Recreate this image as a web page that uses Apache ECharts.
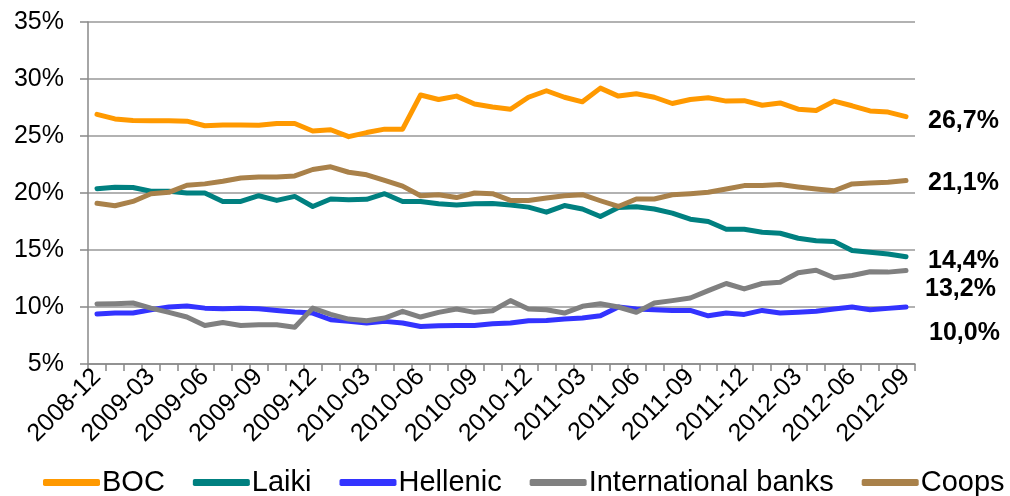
<!DOCTYPE html>
<html>
<head>
<meta charset="utf-8">
<script src="https://cdn.jsdelivr.net/npm/echarts@6/dist/echarts.min.js"></script>
<style>
html,body{margin:0;padding:0;background:#fff;}
#chart{width:1010px;height:496px;}
</style>
</head>
<body>
<div id="chart"></div>
<script>
var categories = ['2008-12','2009-01','2009-02','2009-03','2009-04','2009-05','2009-06','2009-07','2009-08','2009-09','2009-10','2009-11','2009-12','2010-01','2010-02','2010-03','2010-04','2010-05','2010-06','2010-07','2010-08','2010-09','2010-10','2010-11','2010-12','2011-01','2011-02','2011-03','2011-04','2011-05','2011-06','2011-07','2011-08','2011-09','2011-10','2011-11','2011-12','2012-01','2012-02','2012-03','2012-04','2012-05','2012-06','2012-07','2012-08','2012-09'];

var boc = [26.9,26.5,26.35,26.33,26.33,26.3,25.9,25.97,25.97,25.95,26.1,26.1,25.44,25.55,24.94,25.3,25.6,25.6,28.6,28.2,28.5,27.8,27.55,27.35,28.4,28.97,28.4,28.0,29.2,28.5,28.7,28.4,27.85,28.2,28.35,28.06,28.1,27.7,27.9,27.35,27.23,28.06,27.65,27.2,27.1,26.7];
var laiki = [20.38,20.5,20.48,20.15,20.15,20.0,20.0,19.26,19.26,19.76,19.35,19.7,18.82,19.47,19.4,19.45,19.94,19.26,19.26,19.06,18.94,19.06,19.08,18.94,18.76,18.32,18.9,18.6,17.94,18.73,18.8,18.6,18.24,17.7,17.5,16.82,16.82,16.56,16.47,16.03,15.82,15.74,14.95,14.8,14.65,14.4];
var hellenic = [9.38,9.47,9.47,9.76,10.0,10.09,9.9,9.85,9.9,9.85,9.7,9.56,9.47,8.88,8.74,8.59,8.74,8.59,8.29,8.35,8.38,8.38,8.53,8.59,8.79,8.82,8.94,9.03,9.23,10.0,9.82,9.76,9.7,9.7,9.23,9.47,9.35,9.7,9.47,9.53,9.62,9.82,10.0,9.76,9.88,10.0];
var intl = [10.26,10.29,10.35,9.9,9.53,9.12,8.38,8.64,8.38,8.44,8.44,8.23,9.9,9.35,8.94,8.79,9.03,9.62,9.12,9.53,9.82,9.53,9.67,10.56,9.82,9.76,9.47,10.06,10.29,10.0,9.53,10.35,10.56,10.79,11.44,12.06,11.59,12.06,12.17,13.0,13.23,12.56,12.76,13.09,13.06,13.2];
var coops = [19.1,18.88,19.26,19.94,20.06,20.68,20.8,21.03,21.32,21.41,21.41,21.5,22.06,22.3,21.82,21.6,21.1,20.6,19.76,19.85,19.6,20.0,19.94,19.35,19.35,19.56,19.76,19.85,19.32,18.82,19.47,19.47,19.85,19.94,20.06,20.35,20.65,20.65,20.74,20.53,20.35,20.2,20.8,20.88,20.94,21.1];

var seriesNames = ['BOC','Laiki','Hellenic','International banks','Coops'];
var seriesData = [boc, laiki, hellenic, intl, coops];
var colors = ['#FF9900','#008080','#3333FF','#808080','#A9814A'];
var labelOffsets = [[22,4],[22,4],[23,26],[19,19],[22,3]];

function fmt(v){ return v.toFixed(1).replace('.', ',') + '%'; }

var chart = echarts.init(document.getElementById('chart'), null, {renderer:'canvas'});
var series = seriesNames.map(function(name, i){
  return {
    name: name,
    type: 'line',
    data: seriesData[i],
    symbol: 'none',
    smooth: false,
    lineStyle: {width: 5, color: colors[i], cap: 'round', join: 'round'},
    itemStyle: {color: colors[i]},
    endLabel: {
      show: true,
      distance: 0,
      offset: labelOffsets[i],
      formatter: function(p){ return fmt(p.value); },
      fontFamily: 'Liberation Sans, Arial, sans-serif',
      fontWeight: 'bold',
      fontSize: 25,
      color: '#000'
    },
    z: 3
  };
});

chart.setOption({
  animation: false,
  backgroundColor: '#fff',
  color: colors,
  grid: {left: 88, right: 95, top: 22, bottom: 132, containLabel: false},
  legend: {
    bottom: -6,
    left: 38,
    itemWidth: 57,
    itemHeight: 7,
    itemGap: 28,
    icon: 'roundRect',
    textStyle: {fontFamily: 'Liberation Sans, Arial, sans-serif', fontSize: 29, color: '#000', padding: [0,0,0,-3]},
    data: seriesNames
  },
  xAxis: {
    type: 'category',
    data: categories,
    boundaryGap: true,
    axisLine: {lineStyle: {color: '#888', width: 1.5}},
    axisTick: {show: true, interval: 0, length: 7, lineStyle: {color: '#888', width: 1.5}},
    axisLabel: {
      interval: 2,
      rotate: 45,
      margin: 9,
      fontFamily: 'Liberation Sans, Arial, sans-serif',
      fontSize: 25,
      color: '#000'
    },
    splitLine: {show: false}
  },
  yAxis: {
    type: 'value',
    min: 5,
    max: 35,
    interval: 5,
    axisLine: {show: true, lineStyle: {color: '#888', width: 1.5}},
    axisTick: {show: true, length: 8, lineStyle: {color: '#888', width: 1.5}},
    axisLabel: {
      margin: 24,
      formatter: '{value}%',
      fontFamily: 'Liberation Sans, Arial, sans-serif',
      fontSize: 25,
      color: '#000'
    },
    splitLine: {show: true, lineStyle: {color: '#999', width: 1.5}}
  },
  series: series
});
</script>
</body>
</html>
